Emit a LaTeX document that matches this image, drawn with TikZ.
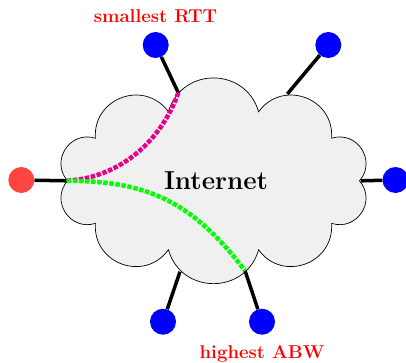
\documentclass[tikz,border=0pt]{standalone}
\usepackage{fontspec}
\definecolor{hostred}{RGB}{255,68,68}
\definecolor{pathmag}{RGB}{230,0,140}
\definecolor{pathgrn}{RGB}{0,255,0}
\tikzset{
  host/.style={circle, fill=#1, minimum size=26pt, inner sep=0pt},
  link/.style={line width=3.5pt, black},
  route/.style={line width=4.5pt, dash pattern=on 4.5pt off 1.6pt, #1},
  lbl/.style={text=red, font=\fontsize{18.6}{20}\selectfont\bfseries},
  puff/.style={bend right=74, looseness=1.335}
}
\begin{document}
\begin{tikzpicture}[x=1pt,y=1pt]
\useasboundingbox (0,0) rectangle (406,362);
% cloud notches on an ellipse
\coordinate (n0) at (359.5,181.2);
\coordinate (n1) at (331.6,223.8);
\coordinate (n2) at (258.6,250.2);
\coordinate (n3) at (168.4,250.2);
\coordinate (n4) at (95.4,223.8);
\coordinate (n5) at (67.5,181.2);
\coordinate (n6) at (95.4,138.6);
\coordinate (n7) at (168.4,112.2);
\coordinate (n8) at (258.6,112.2);
\coordinate (n9) at (331.6,138.6);
\draw[line width=0.7pt, fill=black!6]
  (n0) to[puff] (n1) to[puff] (n2) to[puff] (n3) to[puff] (n4) to[puff] (n5)
  to[puff] (n6) to[puff] (n7) to[puff] (n8) to[puff] (n9) to[puff] (n0) -- cycle;
\node[font=\fontsize{26}{30}\selectfont\bfseries] (lab) at (216,181) {Internet};

\node[host=hostred] (src) at (21.3,182) {};
\node[host=blue] (b1) at (155.7,317) {};
\node[host=blue] (b2) at (328.3,317) {};
\node[host=blue] (b3) at (395.5,182) {};
\node[host=blue] (b4) at (163,40.3) {};
\node[host=blue] (b5) at (262,40.3) {};

\coordinate (e0) at (66.7,181.2);
\coordinate (e1) at (178.3,269.3);
\coordinate (e2) at (287.3,268);
\coordinate (e3) at (361,181.2);
\coordinate (e4) at (180,90.3);
\coordinate (e5) at (245,91.3);

\draw[link] (src) -- (e0);
\draw[link] (b1) -- (e1);
\draw[link] (b2) -- (e2);
\draw[link] (b3) -- (e3);
\draw[link] (b4) -- (e4);
\draw[link] (b5) -- (e5);

\draw[route=pathmag] (e0) .. controls (122,184.5) and (162,223) .. (e1);
\draw[route=pathgrn] (e0) .. controls (146.7,181.2) and (192,161) .. (e5);

\node[lbl] (l1) at (155.5,346) {smallest RTT};
\node[lbl] (l2) at (262,8.5) {highest ABW};
\end{tikzpicture}
\end{document}
